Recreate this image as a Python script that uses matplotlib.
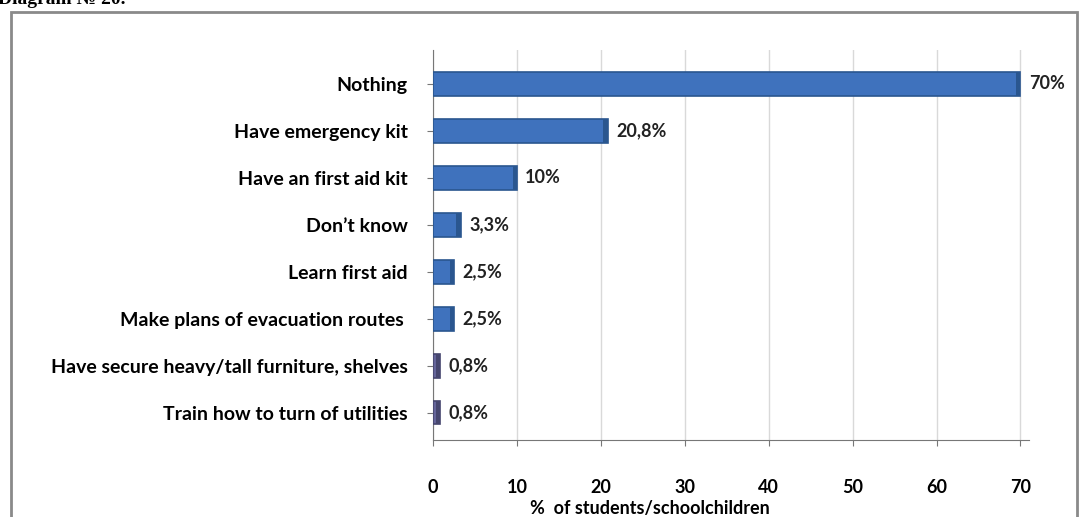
import matplotlib.pyplot as plt
from matplotlib.patches import Rectangle

categories = ['Nothing', 'Have emergency kit', 'Have an first aid kit', 'Don\u2019t know',
              'Learn first aid', 'Make plans of evacuation routes ',
              'Have secure heavy/tall furniture, shelves', 'Train how to turn of utilities']
values = [70, 20.8, 10, 3.3, 2.5, 2.5, 0.8, 0.8]
value_labels = ['70%', '20,8%', '10%', '3,3%', '2,5%', '2,5%', '0,8%', '0,8%']
xticks = [0, 10, 20, 30, 40, 50, 60, 70]

plt.rcParams['font.family'] = ['Lato', 'DejaVu Sans']

fig = plt.figure(figsize=(10.8, 5.17), dpi=100)
fig.patch.set_facecolor('white')

# outer frame of the chart
fig.patches.append(Rectangle((11 / 1080, -0.05), 1066 / 1080, 1 - 12 / 517 + 0.05,
                             transform=fig.transFigure, fill=False,
                             edgecolor='#8a8a8a', linewidth=2))
fig.text(-2 / 1080, 1.0, 'Diagram \u2116 20.', fontsize=14, fontweight='bold',
         family='Liberation Serif', va='center', ha='left')

ax = fig.add_axes([433 / 1080, 1 - 440 / 517, 621 / 1080, 390 / 517])

pos = list(range(len(categories)))
colors = ['#3f72bd'] * 6 + ['#65659a'] * 2
edges = ['#2a568f'] * 6 + ['#46466e'] * 2
ax.barh(pos, values, height=0.5, color=colors, edgecolor=edges, linewidth=1.2, zorder=3)
# darker end caps, like the 3D look
ax.barh(pos, [0.5] * len(pos), left=[v - 0.5 for v in values], height=0.5,
        color=edges, linewidth=0, zorder=4)

for p, v, lab in zip(pos, values, value_labels):
    ax.text(v + 1.0, p, lab, va='center', ha='left', fontsize=13, fontweight='bold', color='#222222')

ax.set_xlim(0, 74)
ax.set_ylim(7.58, -0.72)
ax.set_yticks(pos)
ax.set_yticklabels(categories, fontsize=14, fontweight='bold')
ax.set_xticks(xticks)
ax.set_xticklabels([str(t) for t in xticks], fontsize=13, fontweight='bold')
ax.tick_params(axis='x', length=4, pad=24, color='#777777')
ax.tick_params(axis='y', length=4, pad=14, color='#777777')
ax.set_xlabel('%  of students/schoolchildren', fontsize=13, fontweight='bold', labelpad=2)
ax.xaxis.set_label_coords(0.35, -0.155)

ax.grid(axis='x', color='#d9d9d9', linewidth=1, zorder=0)
for s in ['top', 'right']:
    ax.spines[s].set_visible(False)
ax.spines['left'].set_color('#777777')
ax.spines['bottom'].set_color('#777777')
ax.spines['bottom'].set_bounds(0, 71)

fig.savefig('out.png', dpi=100)
